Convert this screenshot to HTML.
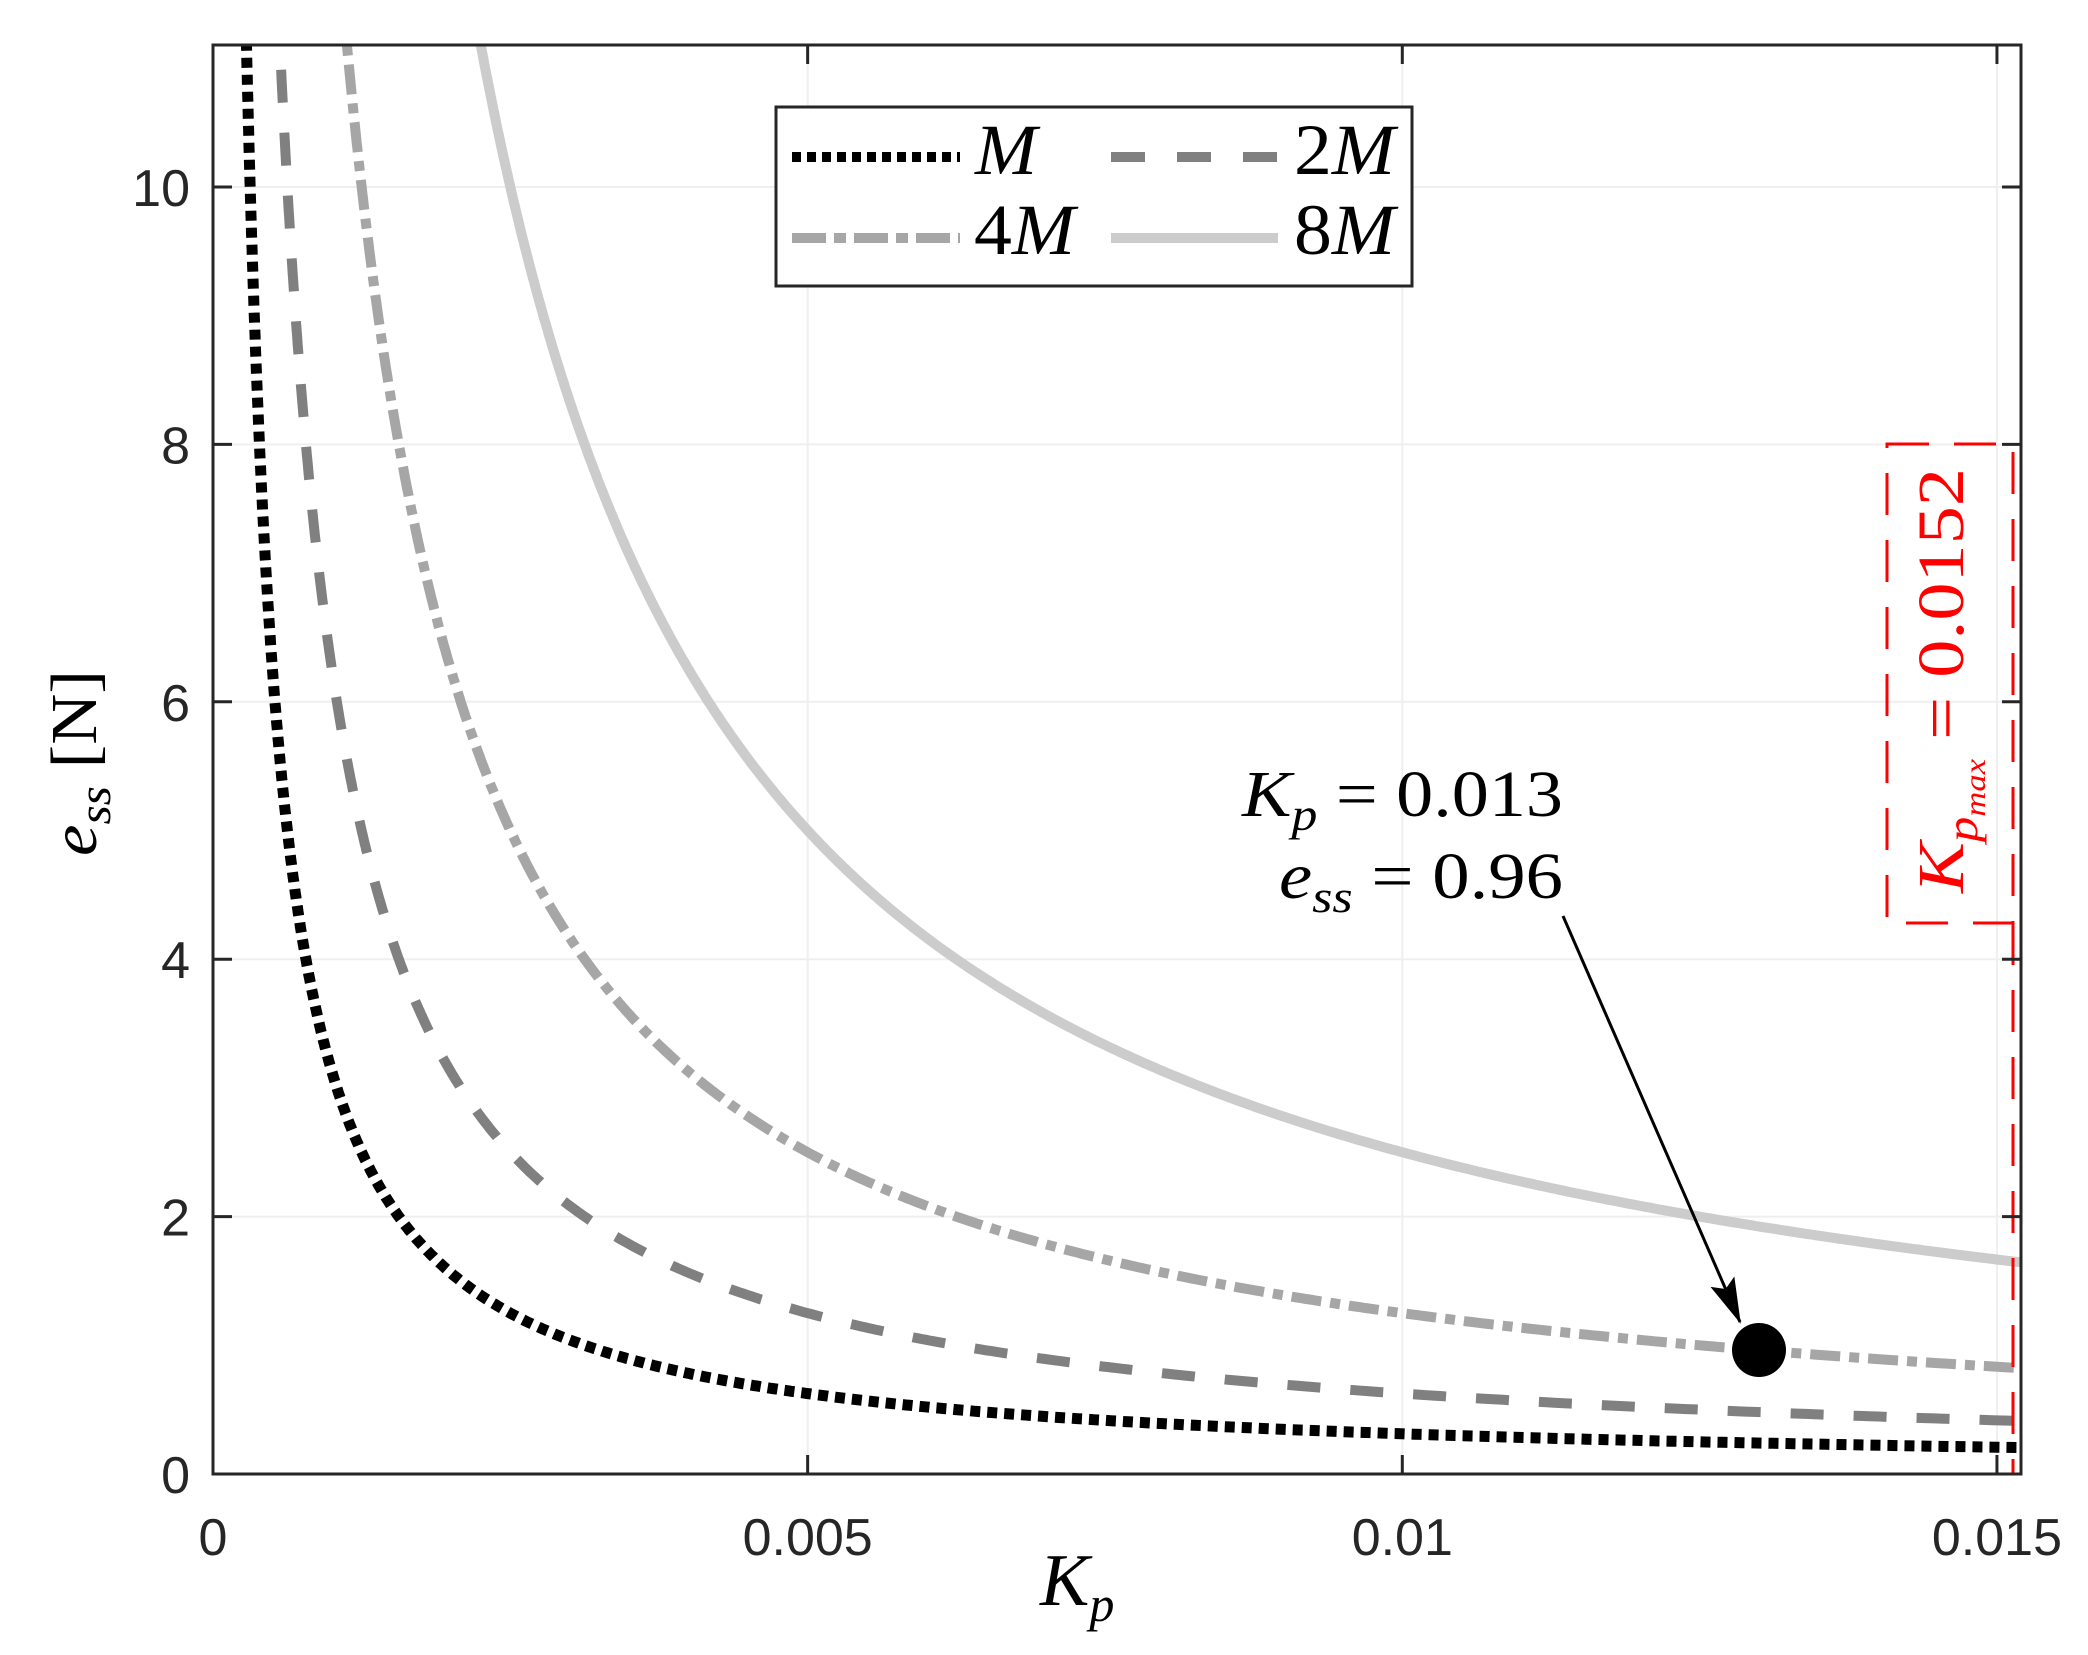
<!DOCTYPE html>
<html><head><meta charset="utf-8"><style>
html,body{margin:0;padding:0;background:#fff;}
svg{display:block;}
text{font-family:"Liberation Serif",serif;}
.tk text{font-family:"Liberation Sans",sans-serif;font-size:52px;fill:#262626;}
</style></head><body>
<svg id="s" width="2088" height="1655" viewBox="0 0 2088 1655" xmlns="http://www.w3.org/2000/svg">
<defs><clipPath id="c"><rect x="213" y="45" width="1808" height="1429"/></clipPath>
<marker id="ah" markerWidth="46" markerHeight="26" refX="44" refY="13" orient="auto" markerUnits="userSpaceOnUse" viewBox="0 0 46 26"><path d="M0,0 L46,13 L0,26 L8,13 z" fill="#000"/></marker></defs>
<g stroke="#efefef" stroke-width="2" id="grid"></g>
<g clip-path="url(#c)" fill="none" id="curves"></g>
<line x1="2013" y1="923" x2="2013" y2="1474" stroke="#f00" stroke-width="3" stroke-dasharray="42 25"/>
<rect x="1887" y="444" width="126" height="479" fill="none" stroke="#f00" stroke-width="3" stroke-dasharray="42 25"/>
<text transform="translate(1963,893) rotate(-90)" font-size="66" fill="#f00" textLength="425" lengthAdjust="spacingAndGlyphs"><tspan font-style="italic">K</tspan><tspan font-style="italic" font-size="44" dy="14">p</tspan><tspan font-style="italic" font-size="30" dy="8">max</tspan><tspan dy="-22"> = 0.0152</tspan></text>
<rect x="213" y="45" width="1808" height="1429" fill="none" stroke="#262626" stroke-width="3"/>
<g stroke="#262626" stroke-width="3" id="ticks"></g>
<g class="tk" id="labels"></g>
<rect x="776" y="107" width="636" height="179" fill="#fff" stroke="#262626" stroke-width="3"/>
<line x1="792" y1="157" x2="960" y2="157" stroke="#000" stroke-width="10" stroke-dasharray="9 6"/>
<line x1="1111" y1="157" x2="1278" y2="157" stroke="#808080" stroke-width="10" stroke-dasharray="34 32"/>
<line x1="792" y1="238" x2="960" y2="238" stroke="#a6a6a6" stroke-width="10" stroke-dasharray="34 8 12 8"/>
<line x1="1111" y1="238" x2="1278" y2="238" stroke="#cccccc" stroke-width="10"/>
<text x="975" y="174" font-size="72" font-style="italic" textLength="62" lengthAdjust="spacingAndGlyphs">M</text>
<text x="1294" y="174" font-size="72" textLength="101" lengthAdjust="spacingAndGlyphs">2<tspan font-style="italic">M</tspan></text>
<text x="974" y="254" font-size="72" textLength="101" lengthAdjust="spacingAndGlyphs">4<tspan font-style="italic">M</tspan></text>
<text x="1294" y="254" font-size="72" textLength="101" lengthAdjust="spacingAndGlyphs">8<tspan font-style="italic">M</tspan></text>
<line x1="1563" y1="916" x2="1740" y2="1322" stroke="#000" stroke-width="3" marker-end="url(#ah)"/>
<circle cx="1759" cy="1350" r="27" fill="#000"/>
<text x="1242" y="816" font-size="66" textLength="321" lengthAdjust="spacingAndGlyphs"><tspan font-style="italic">K</tspan><tspan font-style="italic" font-size="46" dy="14">p</tspan><tspan dy="-14"> = 0.013</tspan></text>
<text x="1279" y="898" font-size="66" textLength="284" lengthAdjust="spacingAndGlyphs"><tspan font-style="italic">e</tspan><tspan font-style="italic" font-size="46" dy="14">ss</tspan><tspan dy="-14"> = 0.96</tspan></text>
<text x="1040" y="1605" font-size="74" font-style="italic">K<tspan font-size="50" dy="16">p</tspan></text>
<text transform="translate(96,856) rotate(-90)" font-size="66" textLength="186" lengthAdjust="spacingAndGlyphs"><tspan font-style="italic">e</tspan><tspan font-style="italic" font-size="46" dy="14">ss</tspan><tspan dy="-14">  [N]</tspan></text>
</svg>
<script>
var NS="http://www.w3.org/2000/svg";
function X(k){return 213+k*118930;}
function Y(e){return 1474-e*128.7;}
function el(p,t,a){var e=document.createElementNS(NS,t);for(var k in a)e.setAttribute(k,a[k]);p.appendChild(e);return e;}
var g=document.getElementById('grid'),tk=document.getElementById('ticks'),lb=document.getElementById('labels');
[0.005,0.01,0.015].forEach(function(k){el(g,'line',{x1:X(k),y1:45,x2:X(k),y2:1474});});
[2,4,6,8,10].forEach(function(v){el(g,'line',{x1:213,y1:Y(v),x2:2021,y2:Y(v)});});
[0,0.005,0.01,0.015].forEach(function(k,i){var x=X(k);el(tk,'line',{x1:x,y1:1474,x2:x,y2:1455});el(tk,'line',{x1:x,y1:45,x2:x,y2:64});
var t=el(lb,'text',{x:x,y:1555,'text-anchor':'middle'});t.textContent=['0','0.005','0.01','0.015'][i];});
[0,2,4,6,8,10].forEach(function(v){var y=Y(v);el(tk,'line',{x1:213,y1:y,x2:232,y2:y});el(tk,'line',{x1:2021,y1:y,x2:2002,y2:y});
var t=el(lb,'text',{x:190,y:y+19,'text-anchor':'end'});t.textContent=String(v);});
var cv=document.getElementById('curves');
var S=[[0.003125,'#000',11,'10 7'],[0.00625,'#808080',10,'33 30'],[0.0125,'#a6a6a6',10,'30 9 10 9'],[0.025,'#cccccc',10,'']];
S.forEach(function(s){var c=s[0],k0=c/11.4,d='';for(var i=0;i<=600;i++){var k=k0*Math.pow(0.0153/k0,i/600);d+=(i?'L':'M')+X(k).toFixed(1)+','+Y(c/k).toFixed(1);}
var a={d:d,stroke:s[1],'stroke-width':s[2]};if(s[3])a['stroke-dasharray']=s[3];el(cv,'path',a);});
</script>
</body></html>
